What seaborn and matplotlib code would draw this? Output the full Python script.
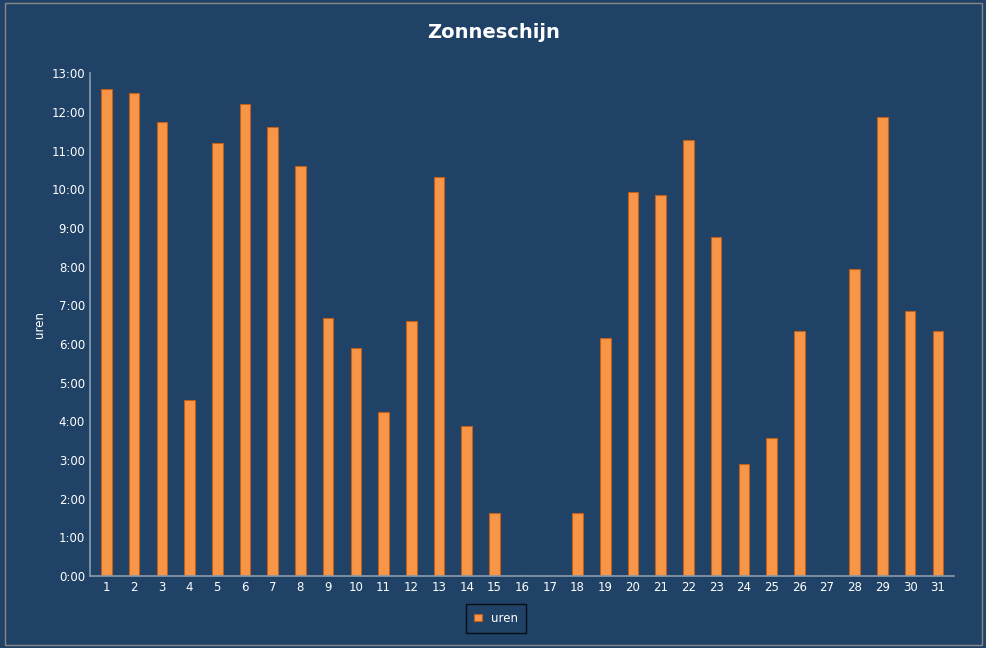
import matplotlib
matplotlib.use("Agg")
import matplotlib.pyplot as plt
import seaborn as sns
import pandas as pd
from matplotlib.ticker import FuncFormatter, MultipleLocator

days = [str(d) for d in range(1, 32)]
uren = [12.6, 12.5, 11.75, 4.55, 11.2, 12.2, 11.6, 10.6, 6.67, 5.9, 4.24, 6.6, 10.33,
        3.88, 1.63, 0, 0, 1.63, 6.15, 9.92, 9.85, 11.27, 8.76, 2.9, 3.57, 6.33, 0,
        7.93, 11.86, 6.85, 6.33]
df = pd.DataFrame({"dag": days, "uren": uren})

bg = "#1F4266"
sns.set_theme(style="white")
plt.rcParams['font.family'] = ['DejaVu Sans']
fig = plt.figure(figsize=(9.87, 6.48), dpi=100, facecolor=bg)
ax = fig.add_axes([0.091, 0.111, 0.876, 0.776], facecolor=bg)
sns.barplot(data=df, x="dag", y="uren", color="#F79646", edgecolor="#C0601A",
            linewidth=0.8, width=0.38, saturation=1, ax=ax, label="uren")
ax.set_ylim(0, 13)
ax.yaxis.set_major_locator(MultipleLocator(1))
ax.yaxis.set_major_formatter(FuncFormatter(lambda v, p: f"{int(round(v))}:00"))
ax.tick_params(colors="white", labelsize=8.5, length=0)
for s in ["top", "right"]:
    ax.spines[s].set_visible(False)
for s in ["left", "bottom"]:
    ax.spines[s].set_color("#8899AA")
ax.set_xlabel("")
ax.set_ylabel("uren", color="white", fontsize=8.5)
ax.set_xlim(-0.6, 30.6)
fig.suptitle("Zonneschijn", color="white", fontsize=14, fontweight="bold", y=0.965)
leg = ax.legend(loc="upper center", bbox_to_anchor=(0.47, -0.05), frameon=True,
                fontsize=8.5, handlelength=0.6, handleheight=0.6)
leg.get_frame().set_facecolor(bg)
leg.get_frame().set_edgecolor("black")
leg.get_frame().set_boxstyle("square")
for t in leg.get_texts():
    t.set_color("white")
fig.patches.append(plt.Rectangle((0.005, 0.005), 0.99, 0.99, transform=fig.transFigure,
                                 fill=False, edgecolor="#888888", linewidth=1))
fig.savefig("out.png", dpi=100, facecolor=bg)
